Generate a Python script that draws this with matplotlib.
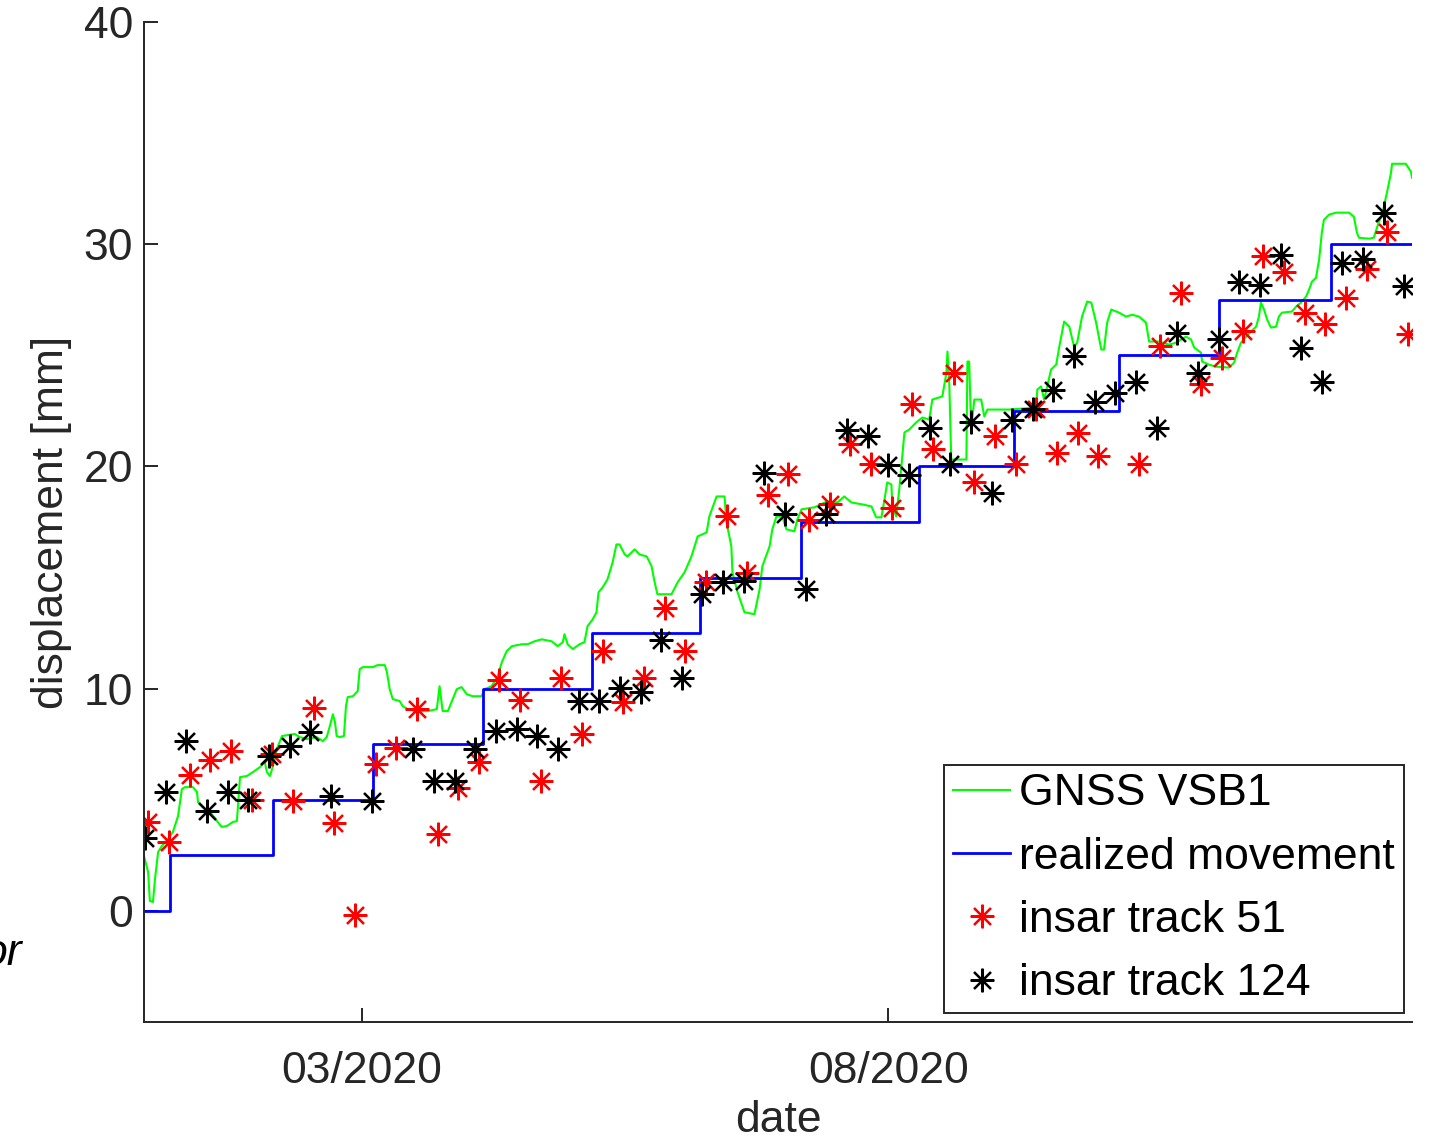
import numpy as np
import pandas as pd
import matplotlib
matplotlib.use("Agg")
import matplotlib.pyplot as plt

# ---- data (days counted from 2020-01-01, values in mm) ----
gnss_day = [-3.3, -2.1, -1.6, -0.7, -0.1, 0.8, 1.9, 3.7, 5.1, 6.6, 7.7, 8.6, 10.9, 12.1, 12.4, 13.8,
            15.9, 17.9, 19.3, 20.8, 22.5, 23.7, 24.0, 24.6, 26.6, 28.4, 30.4, 31.8, 32.4, 33.3, 34.2,
            35.3, 36.8, 40.5, 42.0, 44.0, 46.9, 48.7, 49.8, 50.7, 51.6, 52.2, 52.7, 53.6, 54.8, 55.4,
            55.9, 57.4, 58.8, 59.4, 60.3, 63.2, 64.6, 66.7, 67.3, 68.1, 69.0, 71.0, 71.9, 73.4, 75.4,
            79.2, 81.8, 82.6, 83.5, 85.0, 86.4, 87.6, 89.0, 90.5, 92.2, 94.8, 95.7, 97.7, 99.5, 100.7,
            102.1, 103.6, 106.5, 108.2, 110.2, 112.3, 115.2, 116.9, 118.4, 118.9, 119.8, 121.3, 123.3,
            124.7, 125.6, 127.1, 128.2, 128.8, 130.0, 131.4, 132.9, 134.0, 134.9, 136.4, 137.2, 138.4,
            139.3, 140.7, 142.8, 144.2, 145.1, 145.9, 150.0, 151.8, 153.8, 155.8, 157.6, 160.2, 161.0,
            163.1, 165.4, 166.0, 167.4, 167.7, 169.2, 171.2, 174.1, 175.6, 176.4, 178.5, 179.3, 180.5,
            182.2, 183.4, 185.7, 186.6, 187.8, 191.5, 195.3, 198.2, 200.2, 202.3, 205.5, 208.1, 209.5,
            211.0, 211.9, 212.7, 213.9, 214.2, 215.3, 216.2, 217.7, 219.1, 221.1, 222.9, 224.9, 225.8,
            228.7, 229.9, 230.2, 230.7, 231.3, 235.7, 236.0, 236.5, 237.1, 238.0, 240.0, 240.9, 241.8,
            248.2, 256.0, 256.3, 257.4, 258.3, 259.2, 260.3, 261.8, 262.7, 264.1, 265.6, 267.0, 267.9,
            269.3, 270.8, 272.0, 273.4, 274.9, 275.7, 276.6, 277.8, 280.1, 282.1, 283.9, 285.9, 287.9,
            288.8, 291.7, 294.6, 296.6, 299.5, 301.0, 301.9, 303.9, 304.2, 306.2, 308.3, 312.0, 313.5,
            314.4, 315.5, 317.0, 318.4, 319.9, 320.7, 321.3, 322.2, 323.1, 324.2, 325.7, 326.5, 327.4,
            330.3, 331.5, 332.9, 334.4, 335.3, 336.1, 337.3, 338.2, 339.0, 339.6, 341.1, 343.1, 346.9,
            348.3, 349.2, 349.8, 352.7, 354.1, 355.0, 355.6, 356.5, 357.9, 359.1, 359.4, 363.4, 364.9,
            365.2]
gnss_mm = [2.47, 1.75, 0.45, 0.40, 1.44, 2.65, 2.92, 3.24, 3.55, 4.27, 5.48, 5.57, 5.57, 5.35, 4.90,
           4.67, 4.45, 4.04, 3.78, 3.82, 4.00, 4.04, 4.72, 6.02, 6.07, 6.25, 6.47, 6.70, 6.25, 6.07,
           6.52, 7.28, 7.87, 7.96, 7.82, 7.73, 7.82, 7.64, 7.82, 8.31, 8.85, 8.49, 7.87, 7.82, 7.87,
           9.21, 9.62, 9.66, 9.89, 10.88, 10.97, 10.97, 11.06, 11.06, 10.74, 9.98, 9.53, 9.44, 9.21,
           9.08, 8.99, 8.99, 9.08, 10.11, 8.99, 8.99, 9.53, 9.98, 10.07, 9.75, 9.66, 9.66, 9.98, 10.11,
           10.56, 11.19, 11.69, 11.91, 12.00, 12.00, 12.13, 12.22, 12.13, 11.91, 12.09, 12.45, 12.00,
           11.78, 12.00, 12.09, 12.81, 13.12, 13.44, 14.34, 14.56, 14.92, 15.69, 16.49, 16.49, 16.04,
           15.95, 16.13, 16.27, 16.04, 15.95, 15.51, 14.79, 14.25, 14.25, 14.79, 15.24, 15.95, 16.85,
           17.03, 17.75, 18.65, 18.65, 17.48, 16.40, 15.24, 14.34, 13.44, 13.35, 14.47, 15.51, 16.40,
           17.17, 17.75, 17.75, 17.17, 17.08, 17.62, 18.07, 18.16, 18.43, 18.38, 18.65, 18.38, 18.29,
           18.20, 17.71, 17.71, 18.52, 19.28, 19.19, 18.20, 17.75, 18.97, 21.53, 21.66, 21.98, 22.20,
           22.11, 23.01, 23.15, 24.22, 25.17, 23.91, 20.31, 20.31, 24.72, 24.72, 21.66, 23.01, 23.01,
           22.25, 22.56, 22.56, 22.65, 23.46, 23.60, 23.01, 23.60, 24.36, 24.58, 25.39, 26.52, 26.29,
           25.39, 25.57, 26.74, 27.42, 27.37, 26.47, 25.26, 25.26, 26.47, 27.06, 26.92, 26.74, 26.83,
           26.74, 26.47, 25.62, 25.62, 25.48, 25.57, 25.84, 25.71, 25.35, 25.12, 24.72, 24.58, 24.49,
           24.45, 24.67, 25.12, 25.57, 25.84, 26.07, 26.29, 26.74, 27.37, 27.06, 26.61, 26.25, 26.29,
           26.74, 26.92, 26.97, 27.19, 27.37, 27.64, 27.96, 28.31, 28.49, 29.30, 30.52, 31.10, 31.33,
           31.42, 31.42, 31.24, 30.52, 30.29, 30.25, 30.29, 30.74, 31.01, 31.33, 32.31, 33.21, 33.62,
           33.62, 33.26, 32.99]

# realized movement: step start days and level (last entry = end of series)
step_day = [-3.3, 4.3, 34.2, 63.2, 95.1, 126.8, 158.4, 187.5, 222.0, 249.6, 280.1, 309.1, 341.6, 365.2]
step_mm = [0, 2.5, 5, 7.5, 10, 12.5, 15, 17.5, 20, 22.5, 25, 27.5, 30, 30]

# insar acquisitions, 6-day revisit (nan = no acquisition)
t51_start, t124_start, revisit = "2019-12-30", "2019-12-29", "6D"
t51_mm = [4.0, 3.1, 6.1, 6.8, 7.2, 5.0, 7.05, 4.95, 9.15, 3.95, -0.2, 6.6, 7.35, 9.1, 3.45, 5.55,
          6.7, 10.4, 9.5, 5.85, 10.5, 7.95, 11.7, 9.4, 10.5, 13.65, 11.7, 14.8, 17.75, 15.2, 18.7,
          19.65, 17.6, 18.3, 21.0, 20.1, 18.15, 22.8, 20.8, 24.2, 19.3, 21.35, 20.1, 22.6, 20.6, 21.5,
          20.45, np.nan, 20.1, 25.4, 27.8, 23.7, 24.9, 26.1, 29.45, 28.75, 26.9, 26.4, 27.6, 28.9,
          30.55, 25.95]
t124_mm = [3.3, 5.35, 7.65, 4.5, 5.35, 5.0, 6.95, 7.4, 8.05, 5.15, np.nan, 4.95, np.nan, 7.3, 5.85,
           5.85, 7.3, 8.1, 8.2, 7.85, 7.3, 9.45, 9.45, 10.05, 9.85, 12.2, 10.5, 14.25, 14.8, 14.85,
           19.7, 17.85, 14.5, 17.85, 21.65, 21.35, 20.05, 19.6, 21.75, 20.1, 22.0, 18.8, 22.1, 22.6,
           23.45, 24.95, 22.9, 23.3, 23.8, 21.75, 26.0, 24.2, 25.75, 28.3, 28.15, 29.5, 25.35, 23.8,
           29.15, 29.35, 31.4, 28.1]

t0 = pd.Timestamp("2020-01-01")
def to_dates(days):
    return t0 + pd.to_timedelta(np.asarray(days, dtype=float), unit="D")

gnss_t = to_dates(gnss_day)
step_t = to_dates(step_day)
t51 = pd.date_range(t51_start, periods=len(t51_mm), freq=revisit)
t124 = pd.date_range(t124_start, periods=len(t124_mm), freq=revisit)

plt.rcParams['font.family'] = ['Liberation Sans', 'DejaVu Sans']
FS = 32
DARK = '#262626'

fig = plt.figure(figsize=(14.35, 11.42), dpi=100)
ax = fig.add_axes([144/1435, 120/1142, 1268/1435, 1000/1142])

ax.plot(gnss_t, gnss_mm, color='#00ff00', lw=1.5, label='GNSS VSB1')
ax.step(step_t, step_mm, where='post', color='#0000ff', lw=2, label='realized movement')
star = (8, 2, 0)
ax.plot(t51, t51_mm, ls='none', marker=star, ms=17, mew=1.6, color='#ff0000', label='insar track 51')
ax.plot(t124, t124_mm, ls='none', marker=star, ms=17, mew=1.6, color='black', label='insar track 124')

ax.set_xlim(gnss_t[0], gnss_t[-1])
ax.set_ylim(-5, 40)
ax.set_yticks([0, 10, 20, 30, 40])
ax.set_xticks([pd.Timestamp("2020-03-01"), pd.Timestamp("2020-08-01")])
ax.set_xticklabels(['03/2020', '08/2020'])

for s in ['top', 'right']:
    ax.spines[s].set_visible(False)
for s in ['left', 'bottom']:
    ax.spines[s].set_color(DARK)
    ax.spines[s].set_linewidth(1.4)
ax.tick_params(direction='in', length=10, width=1.4, color=DARK, labelcolor=DARK, labelsize=FS)
ax.tick_params(axis='x', pad=21)
ax.tick_params(axis='y', pad=8)

ax.set_xlabel('date', fontsize=FS, color=DARK, labelpad=6)
ax.set_ylabel('displacement [mm]', fontsize=FS, color=DARK, labelpad=8)

leg = ax.legend(loc='lower right', bbox_to_anchor=(0.9937, 0.009), borderaxespad=0,
                fontsize=FS, fancybox=False, framealpha=1, edgecolor=DARK, numpoints=1,
                handlelength=1.3, handletextpad=0.2, labelspacing=0.5, borderpad=0.2)
leg.get_frame().set_linewidth(1.4)

# partial word cut off at the left edge, as in the source figure
fig.text(22/1435, 1 - 965/1142, 'or', ha='right', va='baseline', style='italic', fontsize=FS)

fig.savefig('out.png', dpi=100)
